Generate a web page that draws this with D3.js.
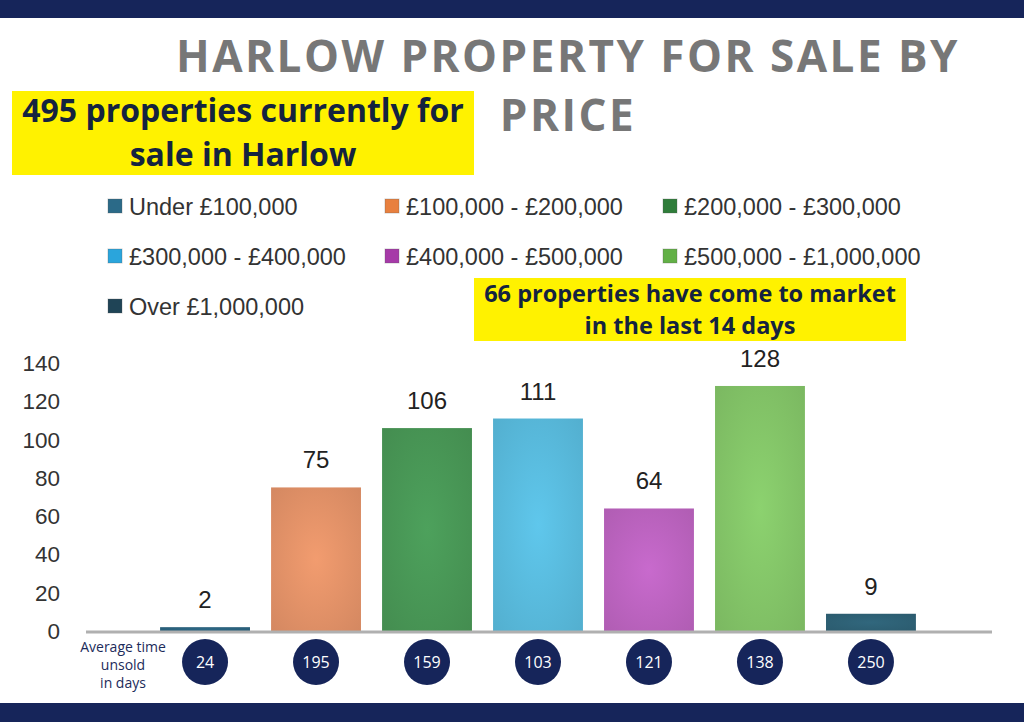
<!DOCTYPE html>
<html>
<head>
<meta charset="utf-8">
<script src="https://cdn.jsdelivr.net/npm/d3@7"></script>
<style>
  body { margin: 0; background: #fff; }
  svg { display: block; }
</style>
</head>
<body>
<div id="chart"></div>
<script>
// data
const categories = ["Under £100,000", "£100,000 - £200,000", "£200,000 - £300,000",
  "£300,000 - £400,000", "£400,000 - £500,000", "£500,000 - £1,000,000", "Over £1,000,000"]
const counts = [2, 75, 106, 111, 64, 128, 9]
const daysUnsold = [24, 195, 159, 103, 121, 138, 250]
const yTicks = [0, 20, 40, 60, 80, 100, 120, 140]
const legendColors = ["#2b6a88", "#e8803f", "#2f7d3a", "#2aa5dc", "#a63aa8", "#62b046", "#1f4456"]
const barColors = ["#2b6480", "#e8956a", "#4a9a58", "#5bbfe2", "#c066c4", "#86c96a", "#2f6378"]

const width = 1024
const height = 722
const navy = "#16255a"

const svg = d3.select("#chart")
  .append("svg")
    .attr("width", width)
    .attr("height", height)

// frame bars
svg.append("rect").attr("x", 0).attr("y", 0).attr("width", width).attr("height", 18).attr("fill", navy)
svg.append("rect").attr("x", 0).attr("y", 703).attr("width", width).attr("height", 19).attr("fill", navy)

// title
const title = svg.append("text")
    .attr("text-anchor", "middle")
    .attr("fill", "#777")
    .style("font-family", "'Open Sans', 'DejaVu Sans', sans-serif")
    .style("font-weight", 700)
    .style("font-size", "44px")
    .style("letter-spacing", "2.5px")
title.append("tspan").attr("x", 568).attr("y", 72).text("HARLOW PROPERTY FOR SALE BY")
title.append("tspan").attr("x", 568).attr("y", 131).text("PRICE")

// callout boxes
function callout(x, y, w, h, lines, size, lineY) {
  svg.append("rect")
    .attr("x", x).attr("y", y).attr("width", w).attr("height", h)
    .attr("fill", "#fff200")
  svg.append("g").selectAll("text")
    .data(lines)
    .join("text")
      .attr("x", x + w / 2)
      .attr("y", (d, i) => lineY[i])
      .attr("text-anchor", "middle")
      .attr("fill", "#14233f")
      .style("font-family", "'Open Sans', sans-serif")
      .style("font-weight", 700)
      .style("font-size", size + "px")
      .text(d => d)
}
callout(12, 91, 462, 84, ["495 properties currently for", "sale in Harlow"], 32, [122, 166])
callout(474, 278, 432, 63, ["66 properties have come to market", "in the last 14 days"], 23.5, [302, 334])

// legend
const legendCols = [108, 385, 663]
const legendRows = [206, 256, 306]
const legend = svg.append("g")
  .selectAll("g")
  .data(categories)
  .join("g")
    .attr("transform", (d, i) => `translate(${legendCols[i % 3]},${legendRows[Math.floor(i / 3)]})`)
legend.append("rect")
    .attr("x", 0).attr("y", -7).attr("width", 14).attr("height", 14)
    .attr("fill", (d, i) => legendColors[i])
    .attr("stroke", "#555").attr("stroke-opacity", 0.3)
legend.append("text")
    .attr("x", 21).attr("y", 8.5)
    .attr("fill", "#333")
    .style("font-family", "'Liberation Sans', sans-serif")
    .style("font-size", "23.5px")
    .text(d => d)

// scales
const xScale = d3.scaleBand()
  .domain(categories)
  .range([139, 937])
  .padding(0.19)

const yScale = d3.scaleLinear()
  .domain([0, 140])
  .range([631, 363])

// gradients for the bars
const defs = svg.append("defs")
barColors.forEach((c, i) => {
  const g = defs.append("radialGradient").attr("id", "bar" + i)
    .attr("cx", "50%").attr("cy", "50%").attr("r", "70%")
  g.append("stop").attr("offset", "0%").attr("stop-color", d3.color(c).brighter(0.12))
  g.append("stop").attr("offset", "100%").attr("stop-color", d3.color(c).darker(0.25))
})

// y axis labels
svg.append("g")
  .selectAll("text")
  .data(yTicks)
  .join("text")
    .attr("x", 60)
    .attr("y", d => yScale(d) + 8)
    .attr("text-anchor", "end")
    .attr("fill", "#333")
    .style("font-family", "'Liberation Sans', sans-serif")
    .style("font-size", "22.5px")
    .text(d => d)

// bars
svg.append("g")
  .selectAll("rect")
  .data(counts)
  .join("rect")
    .attr("x", (d, i) => xScale(categories[i]))
    .attr("y", d => yScale(d))
    .attr("width", xScale.bandwidth())
    .attr("height", d => yScale(0) - yScale(d))
    .attr("fill", (d, i) => `url(#bar${i})`)

// axis line
svg.append("line")
    .attr("x1", 86).attr("x2", 992)
    .attr("y1", yScale(0) + 1).attr("y2", yScale(0) + 1)
    .attr("stroke", "#b0b0b0")
    .attr("stroke-width", 3)

// value labels
svg.append("g")
  .selectAll("text")
  .data(counts)
  .join("text")
    .attr("x", (d, i) => xScale(categories[i]) + xScale.bandwidth() / 2)
    .attr("y", d => yScale(d) - 19)
    .attr("text-anchor", "middle")
    .attr("fill", "#222")
    .style("font-family", "'Liberation Sans', sans-serif")
    .style("font-size", "24px")
    .text(d => d)

// days unsold circles
const days = svg.append("g")
  .selectAll("g")
  .data(daysUnsold)
  .join("g")
    .attr("transform", (d, i) => `translate(${xScale(categories[i]) + xScale.bandwidth() / 2},662)`)
days.append("circle")
    .attr("r", 23)
    .attr("fill", navy)
days.append("text")
    .attr("y", 5.5)
    .attr("text-anchor", "middle")
    .attr("fill", "#fff")
    .style("font-family", "'Open Sans', sans-serif")
    .style("font-size", "16px")
    .text(d => d)

svg.append("g")
  .selectAll("text")
  .data(["Average time", "unsold", "in days"])
  .join("text")
    .attr("x", 123)
    .attr("y", (d, i) => 652 + i * 18)
    .attr("text-anchor", "middle")
    .attr("fill", "#1c2b5a")
    .style("font-family", "'Open Sans', sans-serif")
    .style("font-size", "14px")
    .text(d => d)
</script>
</body>
</html>
